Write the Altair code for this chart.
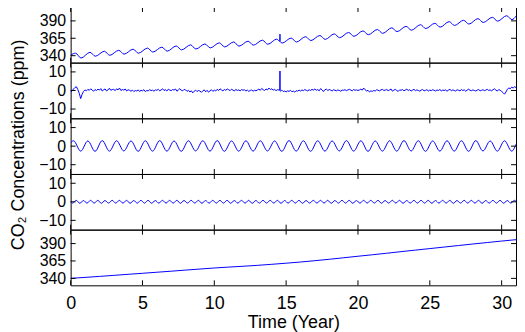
import altair as alt
import pandas as pd

# ---------------- data ----------------
# trend component (panel 5), one value per year, t = 0..31
trend_years = list(range(32))
trend_vals = [340.0, 341.4, 342.8, 344.3, 345.8, 347.3, 348.8, 350.3, 351.9, 353.4,
              354.9, 356.2, 357.4, 358.7, 360.2, 361.8, 363.5, 365.4, 367.4, 369.6,
              371.8, 373.9, 376.1, 378.4, 380.6, 382.8, 385.0, 387.2, 389.4, 391.5,
              393.6, 395.6]

# observed CO2 (panel 1): seasonal maxima (~k+0.35) and minima (~k+0.72)
obs_start, obs_end = 341.0, 396.8
obs_peaks = [343.5, 344.8, 346.4, 347.7, 349.3, 350.9, 352.2, 353.9, 355.5, 356.8,
             358.4, 359.7, 360.8, 362.3, 363.8, 365.3, 367.3, 369.0, 371.3, 373.3,
             375.6, 377.6, 380.0, 382.1, 384.5, 386.5, 388.9, 390.9, 393.2, 395.1,
             397.4]
obs_troughs = [336.6, 339.2, 340.5, 342.2, 343.5, 345.2, 346.5, 348.3, 349.6, 351.2,
               352.6, 353.7, 355.1, 356.4, 358.1, 359.6, 361.7, 363.4, 365.8, 367.8,
               370.1, 372.1, 374.6, 376.6, 379.0, 381.0, 383.4, 385.4, 387.7, 389.6,
               391.8]
obs_spike_t = [14.55, 14.57, 14.59]
obs_spike_v = [360.7, 371.0, 360.1]

# residual (panel 2), every 0.1 year from 0 to 31, plus the spike near 14.57
resid_vals = [
    -1.0, -0.3, 0.8, 1.6, 2.0, 0.5, -1.5, -4.4, -2.0, -0.5,
    0.3, -0.2, 0.6, 0.1, 0.9, 0.2, -0.4, 0.5, 0.0, 0.7,
    0.2, 1.0, -0.3, 0.4, 0.8, -0.2, 0.3, 1.2, 0.1, 0.5,
    0.6, -0.1, 0.9, 0.3, 1.3, 0.0, 0.5, 0.2, 0.8, -0.3,
    0.4, 0.1, -0.4, 0.2, -0.6, 0.0, -0.3, 0.3, -0.5, 0.1,
    -0.2, 0.4, -0.6, 0.0, -0.3, 0.5, -0.1, 0.2, -0.4, 0.3,
    0.1, 0.6, -0.2, 0.3, 0.9, 0.0, 0.4, -0.3, 0.7, 0.2,
    -0.1, 0.5, 0.2, 0.8, -0.4, 0.3, 1.0, 0.1, -0.2, 0.6,
    0.3, -0.5, 0.1, -0.8, -0.2, -1.3, -0.4, 0.2, -0.6, 0.0,
    -0.3, -1.0, -0.2, 0.3, -0.7, 0.1, -0.9, -0.2, 0.4, -0.5,
    0.2, -0.3, 0.6, 0.0, 0.9, 0.3, -0.2, 0.5, 0.1, 0.8,
    0.4, -0.1, 0.7, 0.2, -0.3, 0.6, 0.0, 0.3, -0.2, 0.5,
    0.1, 0.4, -0.3, 0.2, -0.5, 0.0, 0.3, -0.4, 0.1, -0.2,
    0.3, 0.7, 0.1, 1.1, 0.4, 0.0, 0.8, 0.3, 1.3, 0.5,
    0.9, 0.2, 0.6, -0.1, 0.4, 0.3, -0.4, 0.2, -0.6, -0.3,
    -0.8, -0.2, -0.5, 0.1, -0.7, -0.3, -0.9, -0.1, -0.4, 0.2,
    -0.3, 0.3, -0.1, 0.5, 0.1, -0.2, 0.4, 0.0, 0.6, 0.2,
    0.8, 0.1, 0.5, -0.2, 1.0, 0.3, -0.6, 0.4, 0.7, 0.0,
    0.5, 0.2, -0.3, 0.4, 0.1, -0.2, 0.3, 0.0, -0.4, 0.2,
    0.1, 0.4, -0.1, 0.3, 0.6, 0.2, -0.2, 0.5, 0.1, 0.3,
    0.0, 0.3, 0.7, 0.2, 1.3, 0.4, -0.3, 0.1, -0.8, -0.2,
    -0.5, 0.0, -0.3, 0.4, 0.1, -0.2, 0.3, 0.6, 0.0, 0.2,
    0.5, -0.1, 0.3, 0.8, -0.4, 0.2, 0.6, 0.0, -0.5, 0.3,
    0.1, 0.5, -0.2, 0.3, 0.7, 0.0, 0.4, -0.3, 0.2, 0.6,
    -0.1, 0.3, 0.0, -0.4, 0.2, 0.5, -0.2, 0.1, 0.4, -0.3,
    0.2, -0.1, 0.4, 0.1, -0.3, 0.3, 0.0, 0.5, -0.2, 0.2,
    0.0, 0.3, -0.4, 0.2, 0.6, -0.1, 0.3, 0.0, -0.3, 0.4,
    0.1, -0.2, 0.5, 0.0, 0.3, -0.4, 0.2, 0.7, 0.1, -0.1,
    0.3, 0.0, -0.3, 0.2, 0.5, -0.2, 0.1, 0.4, -0.1, 0.2,
    0.6, 0.0, 0.3, -0.2, 0.4, 0.9, 0.2, -0.3, 0.5, 0.1,
    -0.5, -1.2, -2.0, -0.8, 0.6, 1.4, 0.9, 1.8, 1.3, 2.0,
    1.6,
]
resid_spike_t = [14.56, 14.57, 14.58]
resid_spike_v = [0.2, 10.5, 0.0]

# annual cycle (panel 3): maxima near k+0.2, minima near k+0.7
ann_start, ann_end = 1.8, 1.0
ann_peaks = [2.9, 2.8, 3.0, 2.9, 2.8, 2.9, 3.0, 2.8, 2.9, 2.9, 3.0, 2.8, 2.9, 2.9, 2.8,
             3.0, 2.9, 2.9, 2.8, 3.0, 2.9, 2.8, 2.9, 3.0, 2.9, 2.8, 2.9, 2.9, 3.0, 2.8, 2.9]
ann_troughs = [-2.7, -2.8, -2.7, -2.6, -2.8, -2.7, -2.7, -2.8, -2.6, -2.7, -2.8, -2.7,
               -2.7, -2.6, -2.8, -2.7, -2.8, -2.7, -2.6, -2.7, -2.8, -2.7, -2.7, -2.6,
               -2.8, -2.7, -2.7, -2.8, -2.6, -2.7, -2.7]

# semi-annual cycle (panel 4): minima near k+0.14 / k+0.64, maxima near k+0.39 / k+0.89
semi_start, semi_end = 0.3, 0.2
semi_peaks = [0.8, 0.7, 0.8, 0.8, 0.7, 0.8, 0.8, 0.8, 0.7, 0.8, 0.8, 0.7, 0.8, 0.8, 0.8,
              0.7, 0.8, 0.8, 0.7, 0.8, 0.8, 0.8, 0.7, 0.8, 0.8, 0.7, 0.8, 0.8, 0.8, 0.7,
              0.8, 0.8, 0.7, 0.8, 0.8, 0.8, 0.7, 0.8, 0.8, 0.7, 0.8, 0.8, 0.8, 0.7, 0.8,
              0.8, 0.7, 0.8, 0.8, 0.8, 0.7, 0.8, 0.8, 0.7, 0.8, 0.8, 0.8, 0.7, 0.8, 0.8,
              0.7, 0.8]
semi_troughs = [-0.7, -0.8, -0.7, -0.7, -0.8, -0.7, -0.7, -0.7, -0.8, -0.7, -0.7, -0.8,
                -0.7, -0.7, -0.7, -0.8, -0.7, -0.7, -0.8, -0.7, -0.7, -0.7, -0.8, -0.7,
                -0.7, -0.8, -0.7, -0.7, -0.7, -0.8, -0.7, -0.7, -0.8, -0.7, -0.7, -0.7,
                -0.8, -0.7, -0.7, -0.8, -0.7, -0.7, -0.7, -0.8, -0.7, -0.7, -0.8, -0.7,
                -0.7, -0.7, -0.8, -0.7, -0.7, -0.8, -0.7, -0.7, -0.7, -0.8, -0.7, -0.7,
                -0.8, -0.7]

x_ticks = [0, 5, 10, 15, 20, 25, 30]
ppm_ticks = [340, 365, 390]
dev_ticks = [-10, 0, 10]
x_title = "Time (Year)"
y_title = "CO\u2082 Concentrations (ppm)"

# ---------------- tables ----------------
def table(ts, vs):
    return pd.DataFrame({"t": ts, "v": vs}).sort_values("t").reset_index(drop=True)

n = len(obs_peaks)
obs_df = table(
    [0.0] + [k + 0.35 for k in range(n)] + [k + 0.72 for k in range(n)] + obs_spike_t + [31.0],
    [obs_start] + obs_peaks + obs_troughs + obs_spike_v + [obs_end],
)
resid_df = table([round(0.1 * i, 1) for i in range(len(resid_vals))] + resid_spike_t,
                 resid_vals + resid_spike_v)
ann_df = table(
    [0.0] + [k + 0.2 for k in range(len(ann_peaks))] + [k + 0.7 for k in range(len(ann_troughs))] + [31.0],
    [ann_start] + ann_peaks + ann_troughs + [ann_end],
)
semi_pt = [k + off for k in range(31) for off in (0.39, 0.89)]
semi_tt = [k + off for k in range(31) for off in (0.14, 0.64)]
semi_df = table([0.0] + semi_pt + semi_tt + [31.0],
                [semi_start] + semi_peaks + semi_troughs + [semi_end])
trend_df = table(trend_years, trend_vals)

W, H = 448, 56
TL = 5
FONT = "Liberation Sans"
FS = 18
YFS = 16
XDOM = [0, 31]


def panel(df, ydom, yticks, interp="linear", show_x=False):
    xs = alt.Scale(domain=XDOM, nice=False, zero=False)
    ys = alt.Scale(domain=ydom, nice=False, zero=False)
    if show_x:
        xaxis = alt.Axis(values=x_ticks, title=x_title, ticks=False, domain=False,
                         grid=False, labelPadding=9, labelFontSize=FS, titleFontSize=FS,
                         titleFontWeight="normal", titlePadding=1, labelFont=FONT,
                         titleFont=FONT, labelColor="black", titleColor="black",
                         labelOverlap=False, labelFlush=False)
    else:
        xaxis = None
    yaxis = alt.Axis(values=yticks, title=None, ticks=False, domain=False, grid=False,
                     labelPadding=5, labelFontSize=YFS, labelFont=FONT, labelColor="black",
                     labelOverlap=False, labelFlush=False)
    line = alt.Chart(df).mark_line(color="#0000ff", strokeWidth=1, interpolate=interp,
                                   clip=True).encode(
        x=alt.X("t:Q", scale=xs, axis=xaxis),
        y=alt.Y("v:Q", scale=ys, axis=yaxis),
    )
    xt = pd.DataFrame({"t": x_ticks})
    yt = pd.DataFrame({"v": yticks})
    top = alt.Chart(xt).mark_rule(color="black", strokeWidth=1).encode(
        x=alt.X("t:Q", scale=xs, axis=xaxis), y=alt.value(0), y2=alt.value(TL))
    bot = alt.Chart(xt).mark_rule(color="black", strokeWidth=1).encode(
        x=alt.X("t:Q", scale=xs, axis=xaxis), y=alt.value(H), y2=alt.value(H - TL))
    left = alt.Chart(yt).mark_rule(color="black", strokeWidth=1).encode(
        y=alt.Y("v:Q", scale=ys, axis=yaxis), x=alt.value(0), x2=alt.value(TL))
    right = alt.Chart(yt).mark_rule(color="black", strokeWidth=1).encode(
        y=alt.Y("v:Q", scale=ys, axis=yaxis), x=alt.value(W - TL), x2=alt.value(W))
    return alt.layer(line, top, bot, left, right).properties(width=W, height=H)


p1 = panel(obs_df, [330, 410], ppm_ticks, interp="monotone")
p2 = panel(resid_df, [-15, 15], dev_ticks)
p3 = panel(ann_df, [-15, 15], dev_ticks, interp="monotone")
p4 = panel(semi_df, [-15, 15], dev_ticks, interp="monotone")
p5 = panel(trend_df, [330, 410], ppm_ticks, show_x=True)

chart = alt.vconcat(p1, p2, p3, p4, p5, spacing=0, bounds="flush").properties(
    title=alt.TitleParams(text=y_title, orient="left", anchor="middle", fontSize=FS,
                          fontWeight="normal", font=FONT, color="black", offset=10, dx=24),
    padding={"top": -3, "left": 2, "right": 0, "bottom": 0},
).configure(
    font=FONT, background="white",
    view=alt.ViewConfig(stroke="black", strokeWidth=1),
    axis=alt.AxisConfig(labelOverlap=False),
)

chart.save("out.html", embed_options={"renderer": "svg", "actions": False})
